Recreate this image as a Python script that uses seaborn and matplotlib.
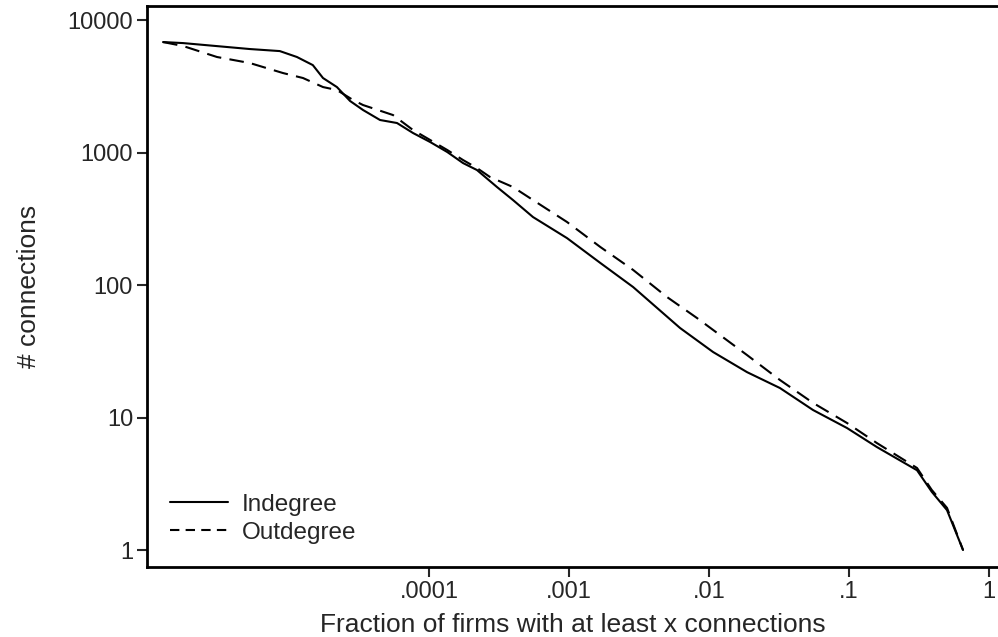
#!/usr/bin/env python3

import numpy as np
import pandas as pd
import seaborn as sns
import matplotlib.pyplot as plt

# values (fraction of firms, # connections)
in_frac = [1.26e-6, 1.75e-6, 5.26e-6, 8.6e-6, 1.14e-5, 1.48e-5, 1.75e-5, 2.2e-5, 2.73e-5,
           3.38e-5, 4.47e-5, 5.91e-5, 7.69e-5, 1.02e-4, 1.35e-4, 1.75e-4, 2.2e-4, 3.06e-4,
           3.98e-4, 5.53e-4, 9.68e-4, 1.67e-3, 2.87e-3, 6.21e-3, 1.07e-2, 1.87e-2, 3.21e-2,
           5.53e-2, 9.68e-2, 0.158, 0.306, 0.39, 0.501, 0.652]
in_conn = [6820, 6700, 6040, 5830, 5260, 4570, 3650, 3120, 2450,
           2094, 1760, 1670, 1404, 1200, 1009, 833, 738, 549,
           438, 326, 226, 147, 96.6, 47.4, 31.2, 22.0, 16.7,
           11.4, 8.33, 5.99, 4.0, 2.75, 2.0, 1.0]

out_frac = [1.26e-6, 1.75e-6, 3.06e-6, 5.26e-6, 9.06e-6, 1.26e-5, 1.75e-5, 2.2e-5, 2.87e-5,
            3.38e-5, 5.53e-5, 7.69e-5, 1.02e-4, 1.35e-4, 1.75e-4, 2.2e-4, 2.73e-4, 3.98e-4,
            5.53e-4, 9.68e-4, 1.67e-3, 2.87e-3, 5.01e-3, 8.2e-3, 1.07e-2, 1.87e-2, 3.21e-2,
            5.53e-2, 9.68e-2, 0.158, 0.306, 0.39, 0.501, 0.652]
out_conn = [6820, 6370, 5260, 4735, 3981, 3650, 3120, 2963, 2490,
            2283, 1919, 1479, 1243, 1045, 878, 764, 653, 549,
            438, 299, 194, 130, 81.2, 56.4, 45.8, 29.6, 19.2,
            12.9, 9.09, 6.42, 4.16, 2.84, 2.08, 1.0]

xticks = [1e-4, 1e-3, 1e-2, 1e-1, 1]
xticklabels = [".0001", ".001", ".01", ".1", "1"]
yticks = [1, 10, 100, 1000, 10000]
yticklabels = ["1", "10", "100", "1000", "10000"]

sns.set_style("white")
plt.rcParams['font.family'] = ['Liberation Sans', 'DejaVu Sans']

df_in = pd.DataFrame({"frac": in_frac, "conn": in_conn})
df_out = pd.DataFrame({"frac": out_frac, "conn": out_conn})

fig = plt.figure(figsize=(9.98, 6.37), dpi=100)
ax = fig.add_axes([0.1473, 0.1099, 0.8527, 0.8807])

sns.lineplot(data=df_in, x="frac", y="conn", sort=False, color="black", lw=1.5,
             ax=ax, label="Indegree")
sns.lineplot(data=df_out, x="frac", y="conn", sort=False, color="black", lw=1.5,
             ax=ax, label="Outdegree")
ax.lines[1].set_dashes([7, 4])

ax.set_xscale("log")
ax.set_yscale("log")
ax.set_xlim(10**-6.014, 10**0.064)
ax.set_ylim(10**-0.128, 10**4.106)
ax.set_xticks(xticks)
ax.set_xticklabels(xticklabels)
ax.set_yticks(yticks)
ax.set_yticklabels(yticklabels)
ax.minorticks_off()

ax.tick_params(axis="both", direction="out", length=7, width=1.5, labelsize=17,
               bottom=True, left=True, pad=3)
for s in ["left", "bottom", "top"]:
    ax.spines[s].set_linewidth(2)
    ax.spines[s].set_color("black")
ax.spines["right"].set_visible(False)

ax.set_xlabel("Fraction of firms with at least x connections", fontsize=19, labelpad=7)
ax.set_ylabel("# connections", fontsize=19, labelpad=19)

leg = ax.legend(loc="lower left", frameon=False, fontsize=17.5, handlelength=2.4,
                handletextpad=0.55, labelspacing=0.25, borderaxespad=0.5,
                borderpad=0.45)
for h in leg.get_lines():
    h.set_linewidth(1.5)
leg.get_lines()[1].set_dashes([4.5, 3])

fig.savefig("out.png", dpi=100)
